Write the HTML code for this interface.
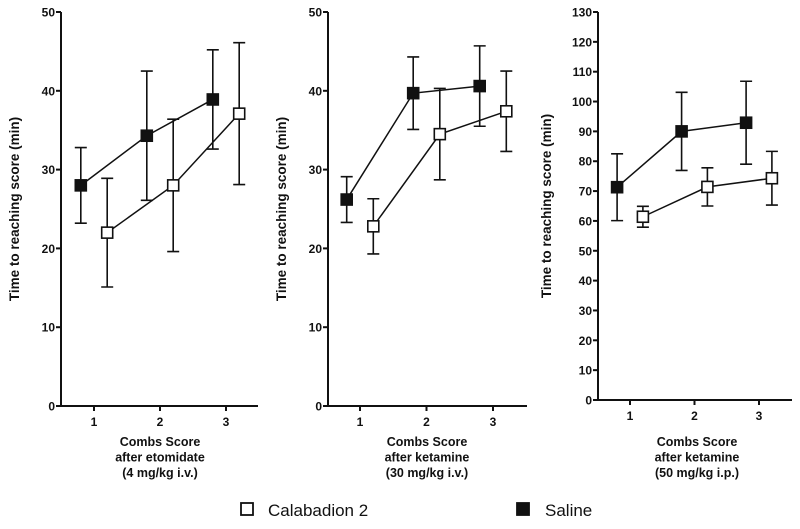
<!DOCTYPE html>
<html><head><meta charset="utf-8">
<style>
body{margin:0;background:#fff;width:800px;height:524px;overflow:hidden}
svg text{font-family:"Liberation Sans",Arial,sans-serif;font-weight:bold;fill:#111}
</style></head>
<body>
<svg id="c" width="800" height="524" viewBox="0 0 800 524"></svg>
<script>
const categories=[1,2,3];
const p1Saline=[28,34.3,38.9], p1SalineErr=[4.8,8.2,6.3];
const p1Cal=[22,28,37.1], p1CalErr=[6.9,8.4,9.0];
const p2Saline=[26.2,39.7,40.6], p2SalineErr=[2.9,4.6,5.1];
const p2Cal=[22.8,34.5,37.4], p2CalErr=[3.5,5.8,5.1];
const p3Saline=[71.3,90,92.9], p3SalineErr=[11.2,13.1,13.9];
const p3Cal=[61.4,71.4,74.3], p3CalErr=[3.5,6.4,9.0];
const ticks50=[0,10,20,30,40,50];
const ticks130=[0,10,20,30,40,50,60,70,80,90,100,110,120,130];
const xTitles=[["Combs Score","after etomidate","(4 mg/kg i.v.)"],["Combs Score","after ketamine","(30 mg/kg i.v.)"],["Combs Score","after ketamine","(50 mg/kg i.p.)"]];

const svg=document.getElementById('c');
const NS='http://www.w3.org/2000/svg';
function mk(tag,attrs,parent){const e=document.createElementNS(NS,tag);for(const k in attrs)e.setAttribute(k,attrs[k]);(parent||svg).appendChild(e);return e;}

const panels=[
 {ax:61,x1:94,dx:66,end:258,top:12,bot:406,max:50,ticks:ticks50,s:p1Saline,se:p1SalineErr,c:p1Cal,ce:p1CalErr,yt:14,xc:160},
 {ax:328,x1:360,dx:66.5,end:527,top:12,bot:406,max:50,ticks:ticks50,s:p2Saline,se:p2SalineErr,c:p2Cal,ce:p2CalErr,yt:281,xc:427},
 {ax:598,x1:630,dx:64.5,end:792,top:12,bot:400,max:130,ticks:ticks130,s:p3Saline,se:p3SalineErr,c:p3Cal,ce:p3CalErr,yt:546,xc:697}
];
panels.forEach((p,pi)=>{
 const g=mk('g',{});
 
 
 const y=v=>p.bot-(v/p.max)*(p.bot-p.top);
 const x=v=>p.x1+(v-1)*p.dx;
 const ya=mk('line',{x1:p.ax,y1:p.top,x2:p.ax,y2:p.bot,stroke:'#111','stroke-width':2},g);
 
 
 const xa=mk('line',{x1:p.ax-1,y1:p.bot,x2:p.end,y2:p.bot,stroke:'#111','stroke-width':2},g);
 
 
 p.ticks.forEach(t=>{
  mk('line',{x1:p.ax-5,y1:y(t),x2:p.ax,y2:y(t),stroke:'#111','stroke-width':2},g);
  const tl=mk('text',{x:p.ax-6,y:y(t)+4.5,'text-anchor':'end','font-size':12},g);
  tl.textContent=t;
  
  
 });
 categories.forEach(c=>{
  mk('line',{x1:x(c),y1:p.bot,x2:x(c),y2:p.bot+5,stroke:'#111','stroke-width':2},g);
  const tl=mk('text',{x:x(c),y:p.bot+20,'text-anchor':'middle','font-size':12},g);
  tl.textContent=c;
  
  
 });
 const yt=mk('text',{x:0,y:0,'text-anchor':'middle','font-size':13.5,transform:`translate(${p.yt+5},${(p.top+p.bot)/2}) rotate(-90)`},g);
 yt.textContent='Time to reaching score (min)';
 
 
 xTitles[pi].forEach((t,i)=>{
  const e=mk('text',{x:p.xc,y:446+i*15.5,'text-anchor':'middle','font-size':12.5},g);
  e.textContent=t;
  
  
 });
 [[p.s,p.se,-0.2,'#111','saline'],[p.c,p.ce,0.2,'#fff','calabadion']].forEach(([vals,errs,off,fill,nm])=>{
  const pts=vals.map((v,i)=>[x(categories[i]+off),y(v)]);
  const ln=mk('polyline',{points:pts.map(q=>q.join(',')).join(' '),fill:'none',stroke:'#111','stroke-width':1.5},g);
  
  
  vals.forEach((v,i)=>{
   const cx=pts[i][0],hi=y(v+errs[i]),lo=y(v-errs[i]);
   const eb=mk('path',{d:`M${cx},${hi}V${lo}M${cx-6},${hi}H${cx+6}M${cx-6},${lo}H${cx+6}`,stroke:'#111','stroke-width':1.6,fill:'none'},g);
   
   
   const m=mk('rect',{x:cx-5.5,y:pts[i][1]-5.5,width:11,height:11,fill:fill,stroke:'#111','stroke-width':1.6},g);
   
   
  });
 });
});
const lg=mk('g',{});


const l1=mk('rect',{x:241,y:503,width:12,height:12,fill:'#fff',stroke:'#111','stroke-width':1.8},lg);


const t1=mk('text',{x:268,y:516,'font-size':17,style:'font-weight:normal'},lg);
t1.textContent='Calabadion 2';


const l2=mk('rect',{x:517,y:503,width:12,height:12,fill:'#111',stroke:'#111','stroke-width':1.8},lg);


const t2=mk('text',{x:545,y:516,'font-size':17,style:'font-weight:normal'},lg);
t2.textContent='Saline';


</script>
</body></html>
